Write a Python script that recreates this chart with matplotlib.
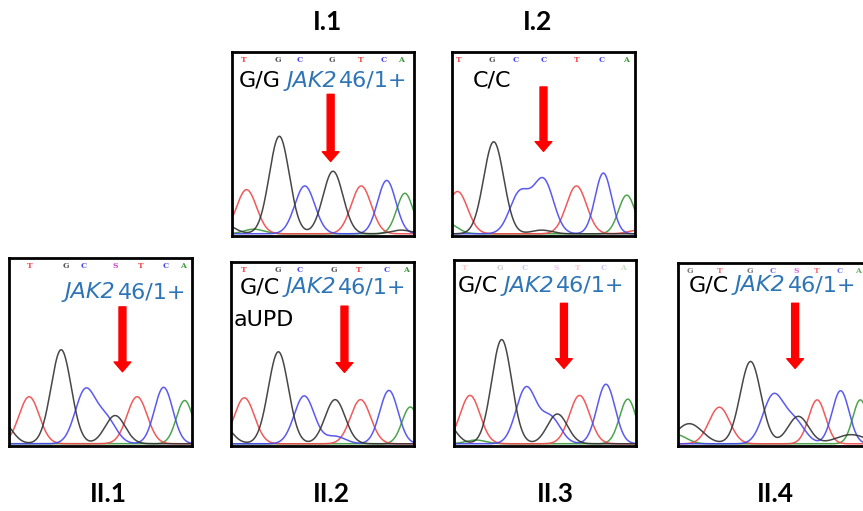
"""
Sanger-Sequenzierung: JAK2 46/1 Haplotyp, Familienstammbaum (I.1, I.2, II.1-II.4)
"""

import numpy as np
import matplotlib
matplotlib.use("Agg")
import matplotlib.pyplot as plt
import matplotlib.transforms as mtransforms

plt.rcParams["font.family"] = ["DejaVu Sans"]

# Farben wie im Chromatogramm-Viewer
TRACE_COLORS = {"T": "#f04848", "G": "#333333", "C": "#4848f0", "A": "#3a9a3a"}
BASE_COLORS = {"T": "#f04848", "G": "#555555", "C": "#4848f0", "A": "#3a9a3a", "S": "#d040d0"}
BLUE_TEXT = "#2e75b6"

# Peaks je Panel: (Position, Hoehe[, Breite]) in Panel-Anteilen
PEAKS_I1 = {
    "T": [(0.08, 0.24), (0.71, 0.26)],
    "G": [(-0.04, 0.05), (0.26, 0.53), (0.555, 0.34), (0.93, 0.02)],
    "C": [(0.40, 0.26), (0.85, 0.29, 0.05)],
    "A": [(0.12, 0.025), (0.95, 0.22, 0.045)],
}
PEAKS_I2 = {
    "T": [(0.03, 0.23), (0.68, 0.26), (1.02, 0.02)],
    "G": [(0.228, 0.50), (0.49, 0.02)],
    "C": [(0.37, 0.22), (0.50, 0.29), (0.827, 0.33, 0.045)],
    "A": [(-0.03, 0.06), (0.955, 0.21, 0.045)],
}
PEAKS_II1 = {
    "T": [(0.11, 0.25), (0.70, 0.25)],
    "G": [(-0.04, 0.12), (0.285, 0.50), (0.58, 0.15)],
    "C": [(0.416, 0.28), (0.53, 0.13), (0.845, 0.30, 0.05)],
    "A": [(0.96, 0.23, 0.045)],
}
PEAKS_II2 = {
    "T": [(0.073, 0.25), (0.708, 0.24)],
    "G": [(-0.05, 0.10), (0.259, 0.50), (0.569, 0.24)],
    "C": [(0.40, 0.26), (0.57, 0.04), (0.863, 0.29, 0.05)],
    "A": [(0.98, 0.20, 0.045)],
}
PEAKS_II3 = {
    "T": [(0.088, 0.26), (0.69, 0.26)],
    "G": [(-0.05, 0.12), (0.262, 0.56), (0.568, 0.16)],
    "C": [(0.396, 0.30), (0.53, 0.14), (0.835, 0.32, 0.05)],
    "A": [(0.12, 0.02), (0.955, 0.24, 0.045)],
}
PEAKS_II4 = {
    "T": [(0.22, 0.20), (0.74, 0.24, 0.045)],
    "G": [(0.06, 0.11, 0.07), (0.386, 0.45), (0.64, 0.15), (0.92, 0.05, 0.08)],
    "C": [(0.506, 0.26), (0.62, 0.12), (0.865, 0.29, 0.045)],
    "A": [(-0.01, 0.05), (0.97, 0.24, 0.04)],
}

# Basen-Aufrufe oben im Panel
BASES_I1 = "TGCGTCA"
BASE_POS_I1 = [0.066, 0.25, 0.37, 0.55, 0.71, 0.835, 0.93]
BASES_I2 = "TGCCTCA"
BASE_POS_I2 = [0.036, 0.22, 0.35, 0.50, 0.68, 0.82, 0.95]
BASES_II1 = "TGCSTCA"
BASE_POS_II1 = [0.115, 0.31, 0.41, 0.58, 0.72, 0.855, 0.95]
BASES_II2 = "TGCGTCA"
BASE_POS_II2 = [0.07, 0.255, 0.374, 0.56, 0.70, 0.85, 0.955]
BASES_II3 = "TGCSTCA"
BASE_POS_II3 = [0.06, 0.253, 0.39, 0.56, 0.68, 0.82, 0.93]
BASES_II4 = "GTGCSTCA"
BASE_POS_II4 = [0.066, 0.22, 0.38, 0.506, 0.63, 0.74, 0.86, 0.955]

# (Name, Pixelbox x0, y0, x1, y1, Peaks, Basen, Basenpos, Basen-Alpha,
#  Pfeil x / oben / Spitze, Genotyp, JAK2?, Text x / y, Zusatz)
PANELS = [
    ("I.1", (232, 52, 414, 236), PEAKS_I1, BASES_I1, BASE_POS_I1, 1.0,
     (0.542, 0.77, 0.405), "G/G", True, (0.037, 0.81), None),
    ("I.2", (452, 52, 635, 236), PEAKS_I2, BASES_I2, BASE_POS_I2, 1.0,
     (0.50, 0.81, 0.46), "C/C", False, (0.115, 0.81), None),
    ("II.1", (9, 258, 192, 446), PEAKS_II1, BASES_II1, BASE_POS_II1, 1.0,
     (0.62, 0.74, 0.395), "", True, (0.306, 0.786), None),
    ("II.2", (231, 262, 414, 446), PEAKS_II2, BASES_II2, BASE_POS_II2, 1.0,
     (0.62, 0.76, 0.40), "G/C", True, (0.046, 0.83), "aUPD"),
    ("II.3", (454, 260, 636, 446), PEAKS_II3, BASES_II3, BASE_POS_II3, 0.3,
     (0.604, 0.767, 0.417), "G/C", True, (0.018, 0.83), None),
    ("II.4", (678, 263, 866, 446), PEAKS_II4, BASES_II4, BASE_POS_II4, 0.8,
     (0.623, 0.78, 0.424), "G/C", True, (0.057, 0.845), None),
]

# Beschriftungen der Personen (Pixelmitte)
LABEL_POS = {"I.1": (327, 22), "I.2": (538, 22), "II.1": (108, 494),
             "II.2": (331, 494), "II.3": (555, 494), "II.4": (775, 494)}

W, H = 863, 511
fig = plt.figure(figsize=(W / 100, H / 100), dpi=100)
renderer = fig.canvas.get_renderer()

xs = np.linspace(-0.05, 1.05, 800)


def trace(peaks):
    y = np.full_like(xs, 0.012)
    for p in peaks:
        c, h = p[0], p[1]
        s = p[2] if len(p) > 2 else 0.055
        y += h * np.exp(-0.5 * ((xs - c) / s) ** 2)
    return y


def rich_text(ax, x, y, parts, size):
    # Textteile nebeneinander auf gleicher Grundlinie
    offset = 0.0
    gaps = [6, 2]
    for i, (s, color, style) in enumerate(parts):
        tr = mtransforms.offset_copy(ax.transAxes, fig=fig, x=offset, y=0, units="dots")
        t = ax.text(x, y, s, transform=tr, fontsize=size, color=color,
                    fontstyle=style, va="baseline", ha="left", clip_on=False)
        gap = gaps[i] if len(parts) == 3 and i < 2 else 2
        offset += t.get_window_extent(renderer).width + gap


for (name, box, peaks, bases, bpos, balpha, arrow, geno, jak, tpos, extra) in PANELS:
    x0, y0, x1, y1 = box
    ax = fig.add_axes([x0 / W, 1 - y1 / H, (x1 - x0) / W, (y1 - y0) / H])
    ax.set_xlim(0, 1)
    ax.set_ylim(0, 1)
    ax.set_xticks([])
    ax.set_yticks([])
    for sp in ax.spines.values():
        sp.set_linewidth(2)
        sp.set_color("black")

    for base in ["A", "T", "C", "G"]:
        ax.plot(xs, trace(peaks[base]), color=TRACE_COLORS[base], lw=1.1, alpha=0.9)

    for b, px in zip(bases, bpos):
        ax.text(px, 0.955, b, color=BASE_COLORS[b], fontsize=5.5, fontweight="bold",
                family="DejaVu Serif", ha="center", va="center", alpha=balpha)

    ax_x, ay_top, ay_tip = arrow
    ax.annotate("", xy=(ax_x, ay_tip), xytext=(ax_x, ay_top),
                arrowprops=dict(arrowstyle="simple,head_width=12,head_length=7,tail_width=5",
                                color="#ff0000", mutation_scale=1, shrinkA=0, shrinkB=0))

    parts = []
    if geno:
        parts.append((geno, "black", "normal"))
    if jak:
        parts.append(("JAK2", BLUE_TEXT, "italic"))
        parts.append(("46/1+", BLUE_TEXT, "normal"))
    rich_text(ax, tpos[0], tpos[1], parts, 16)
    if extra:
        ax.text(0.015, 0.65, extra, fontsize=16, color="black", va="baseline", ha="left")

for name, (lx, ly) in LABEL_POS.items():
    fig.text(lx / W, 1 - ly / H, name, fontsize=19, fontweight="bold",
             family="Lato", ha="center", va="center")

fig.savefig("out.png", dpi=100)
